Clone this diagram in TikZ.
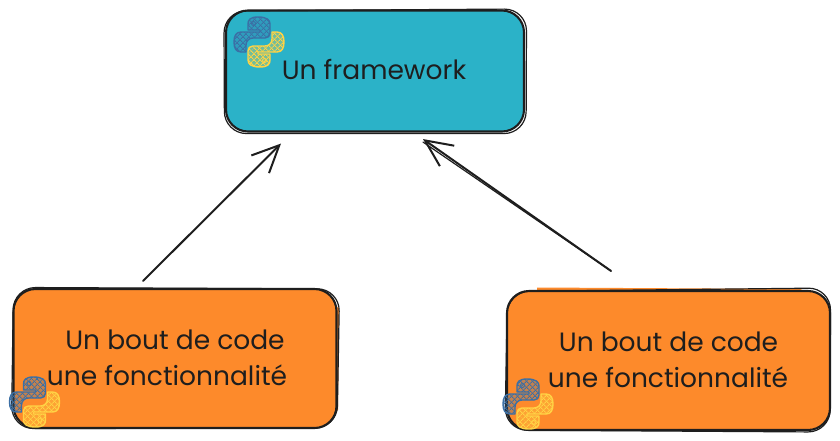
\documentclass[tikz,border=0pt]{standalone}
\usepackage{fontspec}
\setmainfont{Poppins}
\usetikzlibrary{arrows.meta,patterns.meta}
\definecolor{ink}{HTML}{1E1E1E}
\definecolor{teal}{HTML}{2BB2C8}
\definecolor{orng}{HTML}{FD8A2B}
\definecolor{pyb}{HTML}{3B6FA5}
\definecolor{pyy}{HTML}{FFD345}
\tikzset{
  sk/.style={draw=ink,line width=2.1pt,rounded corners=22pt},
  skthin/.style={draw=ink,line width=1.2pt,rounded corners=22pt},
  box/.style={rectangle,inner sep=0pt,sk},
  lbl/.style={font=\fontsize{26.5}{26.5}\selectfont,text=ink,inner sep=0pt,anchor=base},
  wire/.style={draw=ink,line width=2pt,line cap=round},
  tipped/.style={wire,-{Straight Barb[length=27pt,width=25pt,line width=2pt]}},
  pyshape/.style={line width=1.4pt,line join=round},
  hatchA/.style={pattern={Lines[angle=45,distance=4pt,line width=.9pt]},pattern color=#1},
  hatchB/.style={pattern={Lines[angle=-45,distance=4pt,line width=.9pt]},pattern color=#1}
}
\newcommand{\pyblue}{(24,0) .. controls (16,0) and (14,3) .. (14,7) -- (14,13) -- (26,13) -- (26,15) -- (7,15) .. controls (2,15) and (0,19) .. (0,25) .. controls (0,31) and (2,35) .. (7,35) -- (12,35) -- (12,28) .. controls (12,24) and (15,21) .. (19,21) -- (31,21) .. controls (34,21) and (36,19) .. (36,16) -- (36,7) .. controls (36,3) and (33,0) .. (24,0) -- cycle}
\newcommand{\pylogo}[2]{%
  \begin{scope}[shift={(#1,#2)}]
    \fill[pyb,opacity=.3] \pyblue;
    \path[hatchA=pyb] \pyblue;
    \path[hatchB=pyb] \pyblue;
    \draw[pyb,pyshape] \pyblue;
    \draw[pyb,line width=1pt] (19.5,6.5) circle (2);
    \begin{scope}[shift={(50,50)},x=-1pt,y=1pt]
      \fill[pyy,opacity=.35] \pyblue;
      \path[hatchA=pyy] \pyblue;
      \path[hatchB=pyy] \pyblue;
      \draw[pyy,pyshape] \pyblue;
      \draw[pyy,line width=1pt] (19.5,6.5) circle (2);
    \end{scope}
  \end{scope}}
\begin{document}
\begin{tikzpicture}[x=1pt,y=-1pt]
\fill[white] (0,0) rectangle (840,440);
\useasboundingbox (0,0) rectangle (840,440);

% fills that stray from the outlines
\fill[orng] (537,287.5) -- (800,289) -- (815,295) -- (800,320) -- (537,320) -- cycle;
\fill[orng] (300,290) -- (339,308) -- (338,410) -- (300,420) -- cycle;

% boxes
\node[box,fill=teal,minimum width=298pt,minimum height=121pt] (top) at (375,71) {};
\node[box,fill=orng,minimum width=323pt,minimum height=139pt] (left) at (175,358.5) {};
\node[box,fill=orng,minimum width=323pt,minimum height=139pt] (right) at (668.5,360.5) {};

% second sketch strokes
\draw[skthin] ([shift={(-1,1.5)}]top.north west) -- ([shift={(1.5,-.5)}]top.north east) -- ([shift={(1,1)}]top.south east) -- ([shift={(-.5,1)}]top.south west) -- cycle;
\draw[skthin] ([shift={(1,-.5)}]left.north west) -- ([shift={(2,1)}]left.north east) -- ([shift={(-.5,-1)}]left.south east) -- ([shift={(-1,-.5)}]left.south west) -- cycle;
\draw[skthin] ([shift={(1.5,1.5)}]right.north west) -- ([shift={(-.5,-2)}]right.north east) -- ([shift={(-1,1)}]right.south east) -- ([shift={(-1,-1)}]right.south west) -- cycle;

% labels
\node[lbl] (t0) at (374,79) {Un framework};
\node[lbl] (l1) at (175,349) {Un bout de code};
\node[lbl] (l2) at (167,385) {une fonctionnalité};
\node[lbl] (r1) at (668.5,351) {Un bout de code};
\node[lbl] (r2) at (668,387) {une fonctionnalité};

% logos
\pylogo{234}{17}
\pylogo{9.5}{377}
\pylogo{503}{379}

% connectors
\draw[tipped] ([shift={(-32,-7)}]left.north) -- ([shift={(-94,11)}]top.south);
\draw[tipped] ([shift={(-57.5,-19)}]right.north) -- ([shift={(48,6.5)}]top.south);
\draw[wire,line width=1.2pt] ([shift={(-57.5,-19)}]right.north) -- ([shift={(48,9.5)}]top.south);
\end{tikzpicture}
\end{document}
